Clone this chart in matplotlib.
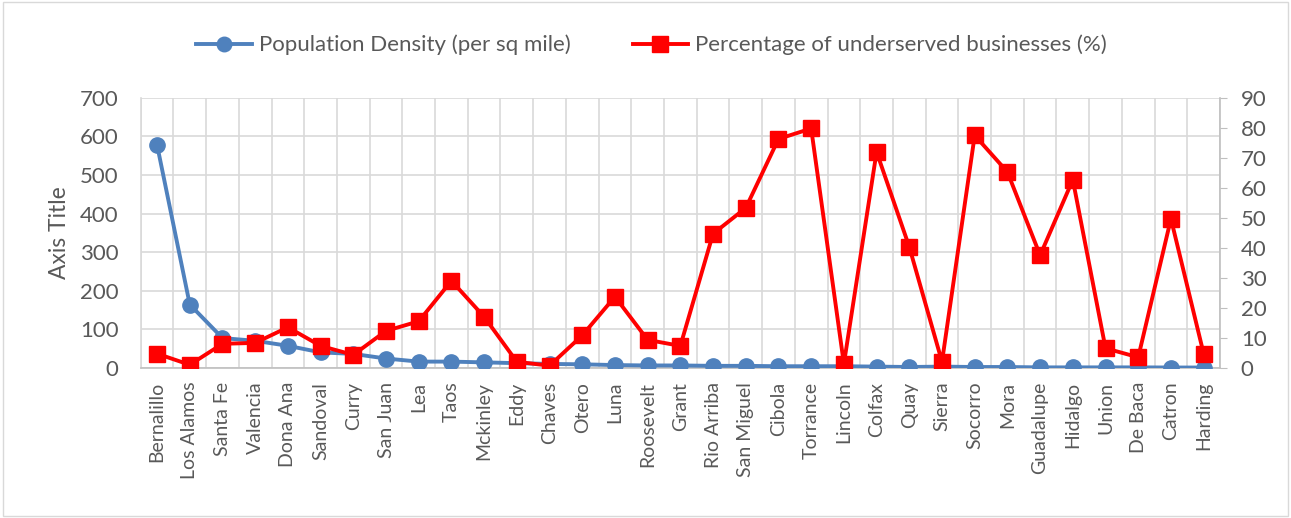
import matplotlib
matplotlib.use("Agg")
import matplotlib.pyplot as plt
from matplotlib.patches import Rectangle

counties = ["Bernalillo", "Los Alamos", "Santa Fe", "Valencia", "Dona Ana", "Sandoval", "Curry",
            "San Juan", "Lea", "Taos", "Mckinley", "Eddy", "Chaves", "Otero", "Luna", "Roosevelt",
            "Grant", "Rio Arriba", "San Miguel", "Cibola", "Torrance", "Lincoln", "Colfax", "Quay",
            "Sierra", "Socorro", "Mora", "Guadalupe", "Hidalgo", "Union", "De Baca", "Catron", "Harding"]
density = [578, 164, 77, 70, 57, 40, 36, 24, 16, 16, 14, 12, 10, 9, 7, 6, 6, 5, 5, 4, 4, 4,
           3, 2, 3, 2, 2, 1, 1, 1, 1, 0.7, 0.6]
underserved = [4.7, 1.0, 8.0, 8.3, 13.5, 7.3, 4.3, 12.3, 15.5, 29.0, 17.0, 2.0, 0.7, 10.8, 23.7,
               9.3, 7.3, 44.7, 53.3, 76.3, 79.8, 1.3, 72.0, 40.3, 2.0, 77.5, 65.3, 37.5, 62.7,
               6.5, 3.5, 49.7, 4.7]
left_ticks = [0, 100, 200, 300, 400, 500, 600, 700]
right_ticks = [0, 10, 20, 30, 40, 50, 60, 70, 80, 90]

plt.rcParams['font.family'] = ['Lato', 'DejaVu Sans']
txt = '#595959'
gridc = '#D9D9D9'

fig = plt.figure(figsize=(12.91, 5.18), dpi=100)
fig.patches.append(Rectangle((0.002, 0.004), 0.996, 0.992, transform=fig.transFigure,
                             fill=False, edgecolor='#D9D9D9', linewidth=1))
ax = fig.add_axes([0.109, 0.290, 0.836, 0.521])
ax2 = ax.twinx()

x = list(range(len(counties)))
l1, = ax.plot(x, density, color='#4F81BD', linewidth=2.8, marker='o', markersize=11,
              label='Population Density (per sq mile)', zorder=3)
l2, = ax2.plot(x, underserved, color='#FF0000', linewidth=2.8, marker='s', markersize=11.5,
               label='Percentage of underserved businesses (%)', zorder=3)

ax.set_xlim(-0.5, len(counties) - 0.5)
ax.set_ylim(0, 700)
ax2.set_ylim(0, 90)
ax.set_yticks(left_ticks)
ax2.set_yticks(right_ticks)
ax.set_xticks(x)
ax.set_xticklabels(counties, rotation=90, fontsize=14, color=txt)
ax.set_xticks([i + 0.5 for i in range(-1, len(counties))], minor=True)
ax.tick_params(axis='x', which='major', length=0, pad=10)
ax.tick_params(axis='x', which='minor', length=0)
ax.tick_params(axis='y', length=0, labelsize=16, labelcolor=txt, pad=16)
ax2.tick_params(axis='y', length=5, color='#BFBFBF', labelsize=16, labelcolor=txt, pad=10)

ax.grid(True, which='minor', axis='x', color=gridc, linewidth=1.2)
ax.grid(True, which='major', axis='y', color=gridc, linewidth=1.2)
ax.set_axisbelow(True)

for a in (ax, ax2):
    for s in a.spines.values():
        s.set_color('#BFBFBF')
        s.set_linewidth(1.2)
    a.spines['top'].set_visible(False)
ax2.spines['left'].set_visible(False)
ax2.spines['bottom'].set_visible(False)
ax.spines['right'].set_visible(False)
ax.spines['left'].set_color('#D9D9D9')

ax.set_ylabel('Axis Title', fontsize=16.5, color=txt, labelpad=7)

fig.legend(handles=[l1, l2], loc='center', bbox_to_anchor=(0.5046, 0.913), ncol=2,
           frameon=False, fontsize=16, labelcolor=txt, handlelength=2.5,
           columnspacing=2.8, handletextpad=0.3, markerscale=0.95)

fig.savefig('out.png', dpi=100)
